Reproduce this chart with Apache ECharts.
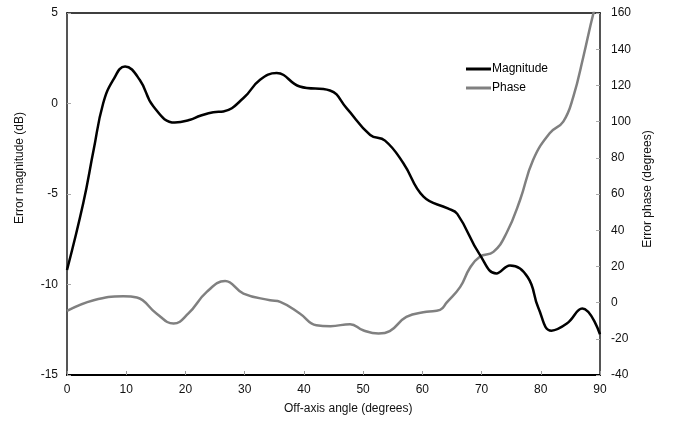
<!DOCTYPE html>
<html>
<head>
<meta charset="utf-8">
<script src="https://cdn.jsdelivr.net/npm/echarts@6/dist/echarts.min.js"></script>
<style>
  html, body { margin: 0; padding: 0; background: #fff; }
  #chart { width: 673px; height: 427px; }
</style>
</head>
<body>
<div id="chart"></div>
<script>
// Off-axis error of the measured response: magnitude (dB, left axis) and phase (degrees, right axis)
const magAngles = [0, 2.75, 4.5, 6.1, 7.8, 9.8, 12.3, 14.6, 18.2, 20.8, 22.5, 24.7, 26.4, 29.8, 32.6, 35.4, 39.3, 44.4, 47.2, 51.2, 53.7, 56.8, 60.2, 64.3, 65.9, 69.7, 72.5, 74.8, 77.8, 79.6, 81.8, 84.4, 87.0, 90];
const magnitude = [-9.2, -5.5, -2.56, 0.0, 1.3, 2.05, 1.3, -0.17, -1.05, -0.9, -0.68, -0.48, -0.44, 0.3, 1.31, 1.68, 0.94, 0.72, -0.26, -1.74, -2.05, -3.3, -5.15, -5.8, -6.1, -8.35, -9.39, -8.95, -9.6, -11.3, -12.55, -12.16, -11.33, -12.75];

const phaseAngles = [0, 4.5, 9.5, 11.8, 15.1, 18, 20.5, 23.6, 26.7, 29.8, 34.3, 36, 39.3, 42.1, 44.5, 47.8, 50, 52.6, 54.5, 57.3, 60.7, 63, 64.1, 66.4, 68, 69.7, 72, 74.2, 76.5, 78.7, 81.5, 83.8, 85.5, 87.2, 88.9, 90];
const phase = [-4.6, 1.3, 3.5, 2.8, -6, -11.6, -6, 5.9, 11.9, 5.0, 1.3, 0.4, -6, -12.5, -13, -11.9, -15.3, -17.1, -15.8, -7.9, -5.1, -4, 0, 8.7, 19, 25.3, 28, 38.3, 56.7, 78.8, 93.6, 100, 113.8, 136, 160, 172];

const xTicks = { min: 0, max: 90, interval: 10 };
const magTicks = { min: -15, max: 5, interval: 5 };
const phaseTicks = { min: -40, max: 160, interval: 20 };

const FONT = 'Liberation Sans, Arial, sans-serif';
const pairs = (xs, ys) => xs.map((x, i) => [x, ys[i]]);

const chart = echarts.init(document.getElementById('chart'), null, { renderer: 'canvas' });
chart.setOption({
  animation: false,
  backgroundColor: '#fff',
  textStyle: { fontFamily: FONT },
  grid: { left: 67, right: 73, top: 13, bottom: 52, containLabel: false },
  legend: {
    orient: 'vertical',
    left: 461, top: 58,
    itemWidth: 25, itemHeight: 3, itemGap: 7,
    icon: 'rect',
    textStyle: { fontFamily: FONT, fontSize: 12, color: '#000', padding: [0, 0, 0, -4] },
    data: ['Magnitude', 'Phase']
  },
  xAxis: [{
    type: 'value', position: 'bottom', min: xTicks.min, max: xTicks.max, interval: xTicks.interval,
    axisLine: { onZero: false, lineStyle: { color: '#000', width: 2 } },
    axisTick: { inside: true, length: 4, lineStyle: { color: '#999' } },
    axisLabel: { fontFamily: FONT, fontSize: 12, color: '#111', margin: 9 },
    splitLine: { show: false }
  }, {
    type: 'value', position: 'top', min: xTicks.min, max: xTicks.max,
    axisLine: { show: true, onZero: false, lineStyle: { color: '#000', width: 1.5 } },
    axisTick: { show: false }, axisLabel: { show: false }, splitLine: { show: false }
  }],
  yAxis: [{
    type: 'value', position: 'left',
    min: magTicks.min, max: magTicks.max, interval: magTicks.interval,
    axisLine: { show: true, onZero: false, lineStyle: { color: '#555', width: 2 } },
    axisTick: { show: true, inside: true, length: 4, lineStyle: { color: '#aaa' } },
    axisLabel: { fontFamily: FONT, fontSize: 12, color: '#111', margin: 9 },
    splitLine: { show: false }
  }, {
    type: 'value', position: 'right',
    min: phaseTicks.min, max: phaseTicks.max, interval: phaseTicks.interval,
    axisLine: { show: true, onZero: false, lineStyle: { color: '#555', width: 2 } },
    axisTick: { show: true, inside: true, length: 4, lineStyle: { color: '#aaa' } },
    axisLabel: { fontFamily: FONT, fontSize: 12, color: '#111', margin: 11 },
    splitLine: { show: false }
  }],
  graphic: [
    { type: 'text', left: 284, top: 403,
      style: { text: 'Off-axis angle (degrees)', font: '12px ' + FONT, fill: '#111' } },
    { type: 'text', x: 20, y: 168, rotation: Math.PI / 2,
      style: { text: 'Error magnitude (dB)', font: '12px ' + FONT, fill: '#111', align: 'center', verticalAlign: 'middle' } },
    { type: 'text', x: 648, y: 189, rotation: Math.PI / 2,
      style: { text: 'Error phase (degrees)', font: '12px ' + FONT, fill: '#111', align: 'center', verticalAlign: 'middle' } }
  ],
  series: [{
    name: 'Magnitude', type: 'line', yAxisIndex: 0,
    data: pairs(magAngles, magnitude),
    smooth: 0.45, showSymbol: false, clip: true,
    lineStyle: { color: '#000', width: 2.5 }, itemStyle: { color: '#000' }, z: 3
  }, {
    name: 'Phase', type: 'line', yAxisIndex: 1,
    data: pairs(phaseAngles, phase),
    smooth: 0.45, showSymbol: false, clip: true,
    lineStyle: { color: '#808080', width: 2.5 }, itemStyle: { color: '#808080' }, z: 2
  }]
});
</script>
</body>
</html>
